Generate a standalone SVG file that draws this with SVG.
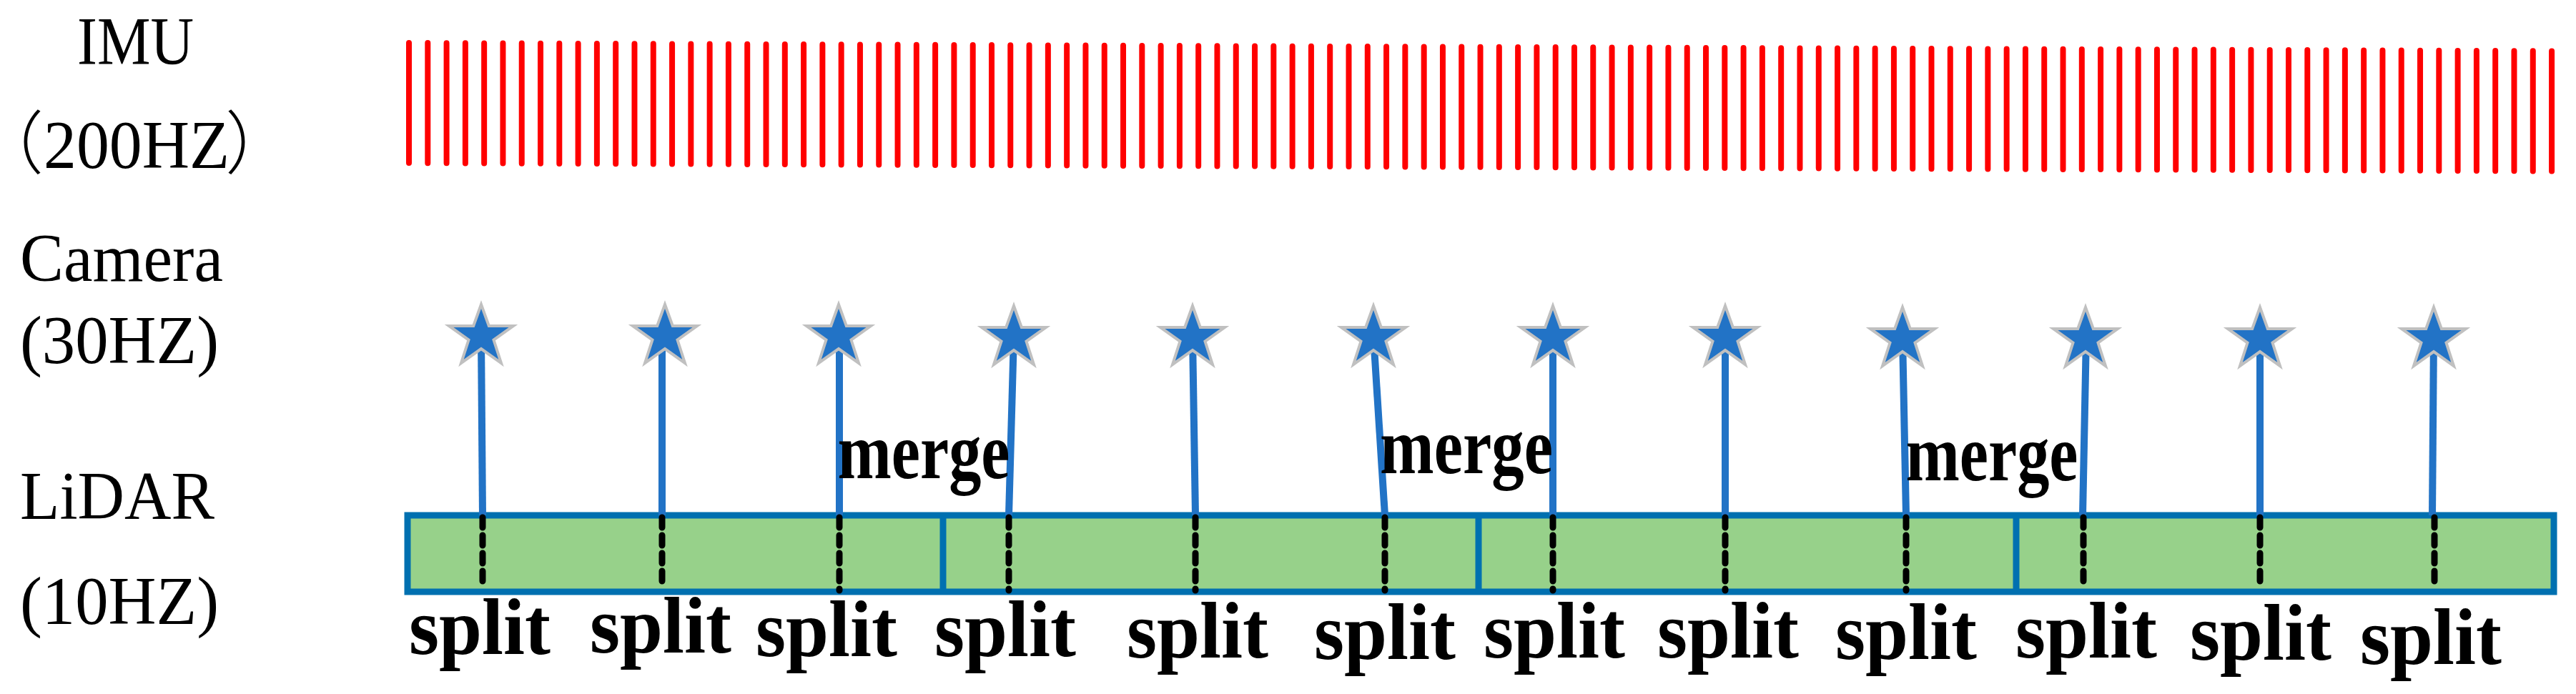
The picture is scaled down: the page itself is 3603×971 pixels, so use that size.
<svg xmlns="http://www.w3.org/2000/svg" width="3603" height="971" viewBox="0 0 3603 971">
<style>
.lbl{font-family:"Liberation Serif","Noto Sans CJK SC",serif;font-size:96px;fill:#000}
.cjk{font-family:"Noto Sans CJK SC",sans-serif;font-size:96px;font-weight:300;fill:#000}
.b{font-family:"Liberation Serif",serif;font-size:112px;font-weight:bold;fill:#000;text-anchor:middle}
.cam{stroke:#2273C6;stroke-width:10}
.dash{stroke:#000;stroke-width:9;stroke-dasharray:14,11;stroke-linecap:round}
.star{fill:#2273C6;stroke:#C0C0C0;stroke-width:4}
.imu{stroke:#ff0000;stroke-width:8;stroke-linecap:round;fill:none}
</style>
<defs>
<polygon id="st" points="0,-44 10.8,-14 45,-14 17.5,5.5 28,38 0,18 -28,38 -17.5,5.5 -45,-14 -10.8,-14"/>
</defs>
<g id="labels">
<text class="lbl" x="108" y="90" textLength="163" lengthAdjust="spacingAndGlyphs">IMU</text>
<text class="cjk" x="-35" y="235">（</text>
<text class="lbl" x="61" y="235" textLength="260" lengthAdjust="spacingAndGlyphs">200HZ</text>
<text class="cjk" x="315" y="235">）</text>
<text class="lbl" x="28" y="393" textLength="284" lengthAdjust="spacingAndGlyphs">Camera</text>
<text class="lbl" x="28" y="508" textLength="278" lengthAdjust="spacingAndGlyphs">(30HZ)</text>
<text class="lbl" x="28" y="726" textLength="272" lengthAdjust="spacingAndGlyphs">LiDAR</text>
<text class="lbl" x="28" y="873" textLength="278" lengthAdjust="spacingAndGlyphs">(10HZ)</text>
</g>
<g id="imu">
<path class="imu" d="M572,60v168.1 m26.29,-168v168.1 m26.29,-168v168.1 m26.29,-168v168.1 m26.29,-168v168.1 m26.29,-168v168.1 m26.29,-168v168.1 m26.29,-168v168.1 m26.29,-168v168.1 m26.29,-168v168.1 m26.29,-168v168.1 m26.29,-168v168.1 m26.29,-168v168.1 m26.29,-168v168.1 m26.29,-168v168.1 m26.29,-168v168.1 m26.29,-168v168.1 m26.29,-168v168.1 m26.29,-168v168.1 m26.29,-168v168.1 m26.29,-168v168.1 m26.29,-168v168.1 m26.29,-168v168.1 m26.29,-168v168.1 m26.29,-168v168.1 m26.29,-168v168.1 m26.29,-168v168.1 m26.29,-168v168.1 m26.29,-168v168.1 m26.29,-168v168.1 m26.29,-168v168.1 m26.29,-168v168.1 m26.29,-168v168.1 m26.29,-168v168.1 m26.29,-168v168.1 m26.29,-168v168.1 m26.29,-168v168.1 m26.29,-168v168.1 m26.29,-168v168.1 m26.29,-168v168.1 m26.29,-168v168.1 m26.29,-168v168.1 m26.29,-168v168.1 m26.29,-168v168.1 m26.29,-168v168.1 m26.29,-168v168.1 m26.29,-168v168.1 m26.29,-168v168.1 m26.29,-168v168.1 m26.29,-168v168.1 m26.29,-168v168.1 m26.29,-168v168.1 m26.29,-168v168.1 m26.29,-168v168.1 m26.29,-168v168.1 m26.29,-168v168.1 m26.29,-168v168.1 m26.29,-168v168.1 m26.29,-168v168.1 m26.29,-168v168.1 m26.29,-168v168.1 m26.29,-168v168.1 m26.29,-168v168.1 m26.29,-168v168.1 m26.29,-168v168.1 m26.29,-168v168.1 m26.29,-168v168.1 m26.29,-168v168.1 m26.29,-168v168.1 m26.29,-168v168.1 m26.29,-168v168.1 m26.29,-168v168.1 m26.29,-168v168.1 m26.29,-168v168.1 m26.29,-168v168.1 m26.29,-168v168.1 m26.29,-168v168.1 m26.29,-168v168.1 m26.29,-168v168.1 m26.29,-168v168.1 m26.29,-168v168.1 m26.29,-168v168.1 m26.29,-168v168.1 m26.29,-168v168.1 m26.29,-168v168.1 m26.29,-168v168.1 m26.29,-168v168.1 m26.29,-168v168.1 m26.29,-168v168.1 m26.29,-168v168.1 m26.29,-168v168.1 m26.29,-168v168.1 m26.29,-168v168.1 m26.29,-168v168.1 m26.29,-168v168.1 m26.29,-168v168.1 m26.29,-168v168.1 m26.29,-168v168.1 m26.29,-168v168.1 m26.29,-168v168.1 m26.29,-168v168.1 m26.29,-168v168.1 m26.29,-168v168.1 m26.29,-168v168.1 m26.29,-168v168.1 m26.29,-168v168.1 m26.29,-168v168.1 m26.29,-168v168.1 m26.29,-168v168.1 m26.29,-168v168.1 m26.29,-168v168.1 m26.29,-168v168.1 m26.29,-168v168.1 m26.29,-168v168.1 m26.29,-168v168.1"/>
</g>
<g id="lidar">
<rect x="570" y="721" width="3002" height="107" fill="#97D18A" stroke="#0070B0" stroke-width="9"/>
<line x1="1319" y1="721" x2="1319" y2="828" stroke="#0070B0" stroke-width="9"/>
<line x1="2068" y1="721" x2="2068" y2="828" stroke="#0070B0" stroke-width="9"/>
<line x1="2820" y1="721" x2="2820" y2="828" stroke="#0070B0" stroke-width="9"/>
</g>
<g id="connectors">
<line class="cam" x1="673" y1="470" x2="675" y2="721"/>
<line class="cam" x1="926" y1="470" x2="926" y2="721"/>
<line class="cam" x1="1174" y1="470" x2="1174" y2="721"/>
<line class="cam" x1="1418" y1="470" x2="1411" y2="721"/>
<line class="cam" x1="1668" y1="470" x2="1672" y2="721"/>
<line class="cam" x1="1921" y1="470" x2="1937" y2="721"/>
<line class="cam" x1="2172" y1="470" x2="2172" y2="721"/>
<line class="cam" x1="2413" y1="470" x2="2413" y2="721"/>
<line class="cam" x1="2661" y1="470" x2="2666" y2="721"/>
<line class="cam" x1="2918" y1="470" x2="2913" y2="721"/>
<line class="cam" x1="3161" y1="470" x2="3161" y2="721"/>
<line class="cam" x1="3404" y1="470" x2="3402" y2="721"/>
<line class="dash" x1="675" y1="724" x2="675" y2="820"/>
<line class="dash" x1="926" y1="724" x2="926" y2="820"/>
<line class="dash" x1="1174" y1="724" x2="1174" y2="826"/>
<line class="dash" x1="1411" y1="724" x2="1411" y2="826"/>
<line class="dash" x1="1672" y1="724" x2="1672" y2="826"/>
<line class="dash" x1="1937" y1="724" x2="1937" y2="826"/>
<line class="dash" x1="2172" y1="724" x2="2172" y2="826"/>
<line class="dash" x1="2413" y1="724" x2="2413" y2="826"/>
<line class="dash" x1="2666" y1="724" x2="2666" y2="826"/>
<line class="dash" x1="2914" y1="724" x2="2914" y2="820"/>
<line class="dash" x1="3161" y1="724" x2="3161" y2="820"/>
<line class="dash" x1="3405" y1="724" x2="3405" y2="820"/>
</g>
<g id="stars" class="star">
<use href="#st" x="673" y="470"/><use href="#st" x="930" y="470"/><use href="#st" x="1173" y="470"/>
<use href="#st" x="1418" y="472"/><use href="#st" x="1668" y="472"/><use href="#st" x="1921" y="472"/>
<use href="#st" x="2172" y="472"/><use href="#st" x="2413" y="472"/><use href="#st" x="2661" y="474"/>
<use href="#st" x="2917" y="474"/><use href="#st" x="3161" y="474"/><use href="#st" x="3404" y="474"/>
</g>
<g id="merge">
<text class="b" x="1292" y="669" textLength="241" lengthAdjust="spacingAndGlyphs">merge</text>
<text class="b" x="2051" y="662" textLength="242" lengthAdjust="spacingAndGlyphs">merge</text>
<text class="b" x="2786" y="672" textLength="241" lengthAdjust="spacingAndGlyphs">merge</text>
</g>
<g id="split">
<text class="b" x="671" y="915" textLength="198" lengthAdjust="spacingAndGlyphs">split</text>
<text class="b" x="924" y="913" textLength="198" lengthAdjust="spacingAndGlyphs">split</text>
<text class="b" x="1156" y="918" textLength="198" lengthAdjust="spacingAndGlyphs">split</text>
<text class="b" x="1406" y="918" textLength="198" lengthAdjust="spacingAndGlyphs">split</text>
<text class="b" x="1675" y="920" textLength="198" lengthAdjust="spacingAndGlyphs">split</text>
<text class="b" x="1937" y="922" textLength="198" lengthAdjust="spacingAndGlyphs">split</text>
<text class="b" x="2174" y="920" textLength="198" lengthAdjust="spacingAndGlyphs">split</text>
<text class="b" x="2417" y="920" textLength="198" lengthAdjust="spacingAndGlyphs">split</text>
<text class="b" x="2666" y="922" textLength="198" lengthAdjust="spacingAndGlyphs">split</text>
<text class="b" x="2918" y="920" textLength="198" lengthAdjust="spacingAndGlyphs">split</text>
<text class="b" x="3162" y="923" textLength="198" lengthAdjust="spacingAndGlyphs">split</text>
<text class="b" x="3400" y="929" textLength="198" lengthAdjust="spacingAndGlyphs">split</text>
</g>
</svg>
